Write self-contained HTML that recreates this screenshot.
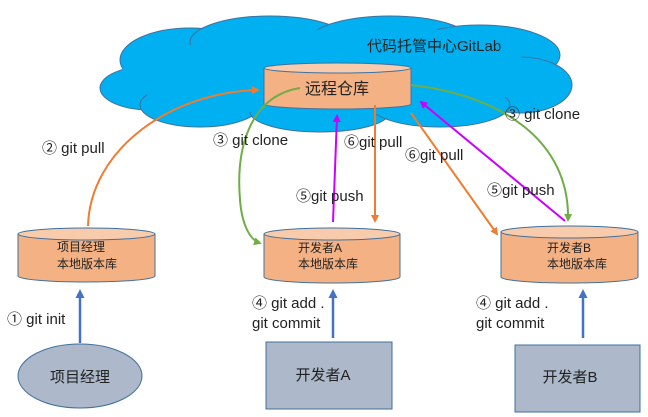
<!DOCTYPE html>
<html><head><meta charset="utf-8"><style>
html,body{margin:0;padding:0;background:#fff;width:648px;height:417px;overflow:hidden}
text{font-family:"Liberation Sans","Noto Sans CJK SC",sans-serif;fill:#222}
</style></head><body>
<svg width="648" height="417" viewBox="0 0 648 417" xmlns="http://www.w3.org/2000/svg">
<defs>
<marker id="ao" markerWidth="8" markerHeight="8" refX="6" refY="4" orient="auto" markerUnits="userSpaceOnUse"><path d="M0,0 L8,4 L0,8 z" fill="#ED7D31"/></marker>
<marker id="ag" markerWidth="8" markerHeight="8" refX="6" refY="4" orient="auto" markerUnits="userSpaceOnUse"><path d="M0,0 L8,4 L0,8 z" fill="#70AD47"/></marker>
<marker id="am" markerWidth="8" markerHeight="8" refX="6" refY="4" orient="auto" markerUnits="userSpaceOnUse"><path d="M0,0 L8,4 L0,8 z" fill="#CC00FF"/></marker>
<marker id="ab" markerWidth="9" markerHeight="9" refX="6" refY="4.5" orient="auto" markerUnits="userSpaceOnUse"><path d="M0,0 L9,4.5 L0,9 z" fill="#4472C4"/></marker>
</defs>
<g fill="#00B0F0" stroke="#41719C" stroke-width="1">
<ellipse cx="190" cy="60" rx="70" ry="32"/>
<ellipse cx="270" cy="42" rx="80" ry="26"/>
<ellipse cx="390" cy="40" rx="80" ry="24"/>
<ellipse cx="480" cy="55" rx="80" ry="30"/>
<ellipse cx="520" cy="85" rx="52" ry="28"/>
<ellipse cx="150" cy="88" rx="50" ry="22"/>
<ellipse cx="200" cy="105" rx="60" ry="22"/>
<ellipse cx="320" cy="112" rx="70" ry="20"/>
<ellipse cx="440" cy="105" rx="70" ry="22"/>
</g>
<g fill="#00B0F0">
<ellipse cx="330" cy="75" rx="210" ry="40"/>
<ellipse cx="380" cy="50" rx="150" ry="22"/>
</g>
<text x="367" y="51" font-size="15">代码托管中心GitLab</text>
<g stroke="#41719C" stroke-width="1">
<path d="M264,68 L264,104 A73.5,5 0 0 0 411,104 L411,68 Z" fill="#F4B183"/>
<ellipse cx="337.5" cy="68" rx="73.5" ry="5" fill="#F8CBAD"/>
<path d="M18,234 L18,276 A68.5,6 0 0 0 155,276 L155,234 Z" fill="#F4B183"/>
<ellipse cx="86.5" cy="234" rx="68.5" ry="6" fill="#F8CBAD"/>
<path d="M264,234 L264,277 A68,6 0 0 0 400,277 L400,234 Z" fill="#F4B183"/>
<ellipse cx="332" cy="234" rx="68" ry="6" fill="#F8CBAD"/>
<path d="M501,232 L501,277 A68.5,6 0 0 0 638,277 L638,232 Z" fill="#F4B183"/>
<ellipse cx="569.5" cy="232" rx="68.5" ry="6" fill="#F8CBAD"/>
</g>
<text x="337" y="94" font-size="16" text-anchor="middle">远程仓库</text>
<text x="57" y="251" font-size="12">项目经理</text>
<text x="57" y="268" font-size="12">本地版本库</text>
<text x="298" y="252" font-size="12">开发者A</text>
<text x="298" y="268" font-size="12">本地版本库</text>
<text x="547" y="252" font-size="12">开发者B</text>
<text x="547" y="268" font-size="12">本地版本库</text>
<ellipse cx="80" cy="376" rx="62" ry="32" fill="#ADB9CA" stroke="#41719C"/>
<text x="80" y="382" font-size="15" text-anchor="middle">项目经理</text>
<rect x="266" y="342" width="126" height="67" fill="#ADB9CA" stroke="#41719C"/>
<text x="323" y="380" font-size="15" text-anchor="middle">开发者A</text>
<rect x="515" y="345" width="125" height="67" fill="#ADB9CA" stroke="#41719C"/>
<text x="570" y="382" font-size="15" text-anchor="middle">开发者B</text>
<g stroke="#4472C4" stroke-width="2.5" fill="none">
<line x1="80" y1="343" x2="80" y2="292" marker-end="url(#ab)"/>
<line x1="333" y1="338" x2="333" y2="292" marker-end="url(#ab)"/>
<line x1="583" y1="338" x2="583" y2="292" marker-end="url(#ab)"/>
</g>
<g fill="none" stroke-width="2">
<path d="M88,226 C90,150 170,92 258,90" stroke="#ED7D31" marker-end="url(#ao)"/>
<path d="M300,88 C255,95 235,140 240,200 C242,225 250,240 260,243" stroke="#70AD47" marker-end="url(#ag)"/>
<path d="M411,85 C500,95 570,140 568,220" stroke="#70AD47" marker-end="url(#ag)"/>
<line x1="333" y1="222" x2="337" y2="116" stroke="#CC00FF" marker-end="url(#am)"/>
<line x1="375" y1="105" x2="375" y2="221" stroke="#ED7D31" marker-end="url(#ao)"/>
<line x1="411" y1="113" x2="497" y2="234" stroke="#ED7D31" marker-end="url(#ao)"/>
<line x1="565" y1="221" x2="421" y2="102" stroke="#CC00FF" marker-end="url(#am)"/>
</g>
<g font-size="15">
<text x="42" y="153">② git pull</text>
<text x="213" y="145">③ git clone</text>
<text x="505" y="119">③ git clone</text>
<text x="344" y="147">⑥git pull</text>
<text x="405" y="160">⑥git pull</text>
<text x="296" y="201">⑤git push</text>
<text x="487" y="195">⑤git push</text>
<text x="7" y="324">① git init</text>
<text x="252" y="308">④ git add .</text>
<text x="252" y="328">git commit</text>
<text x="476" y="308">④ git add .</text>
<text x="476" y="328">git commit</text>
</g>
</svg>
</body></html>
